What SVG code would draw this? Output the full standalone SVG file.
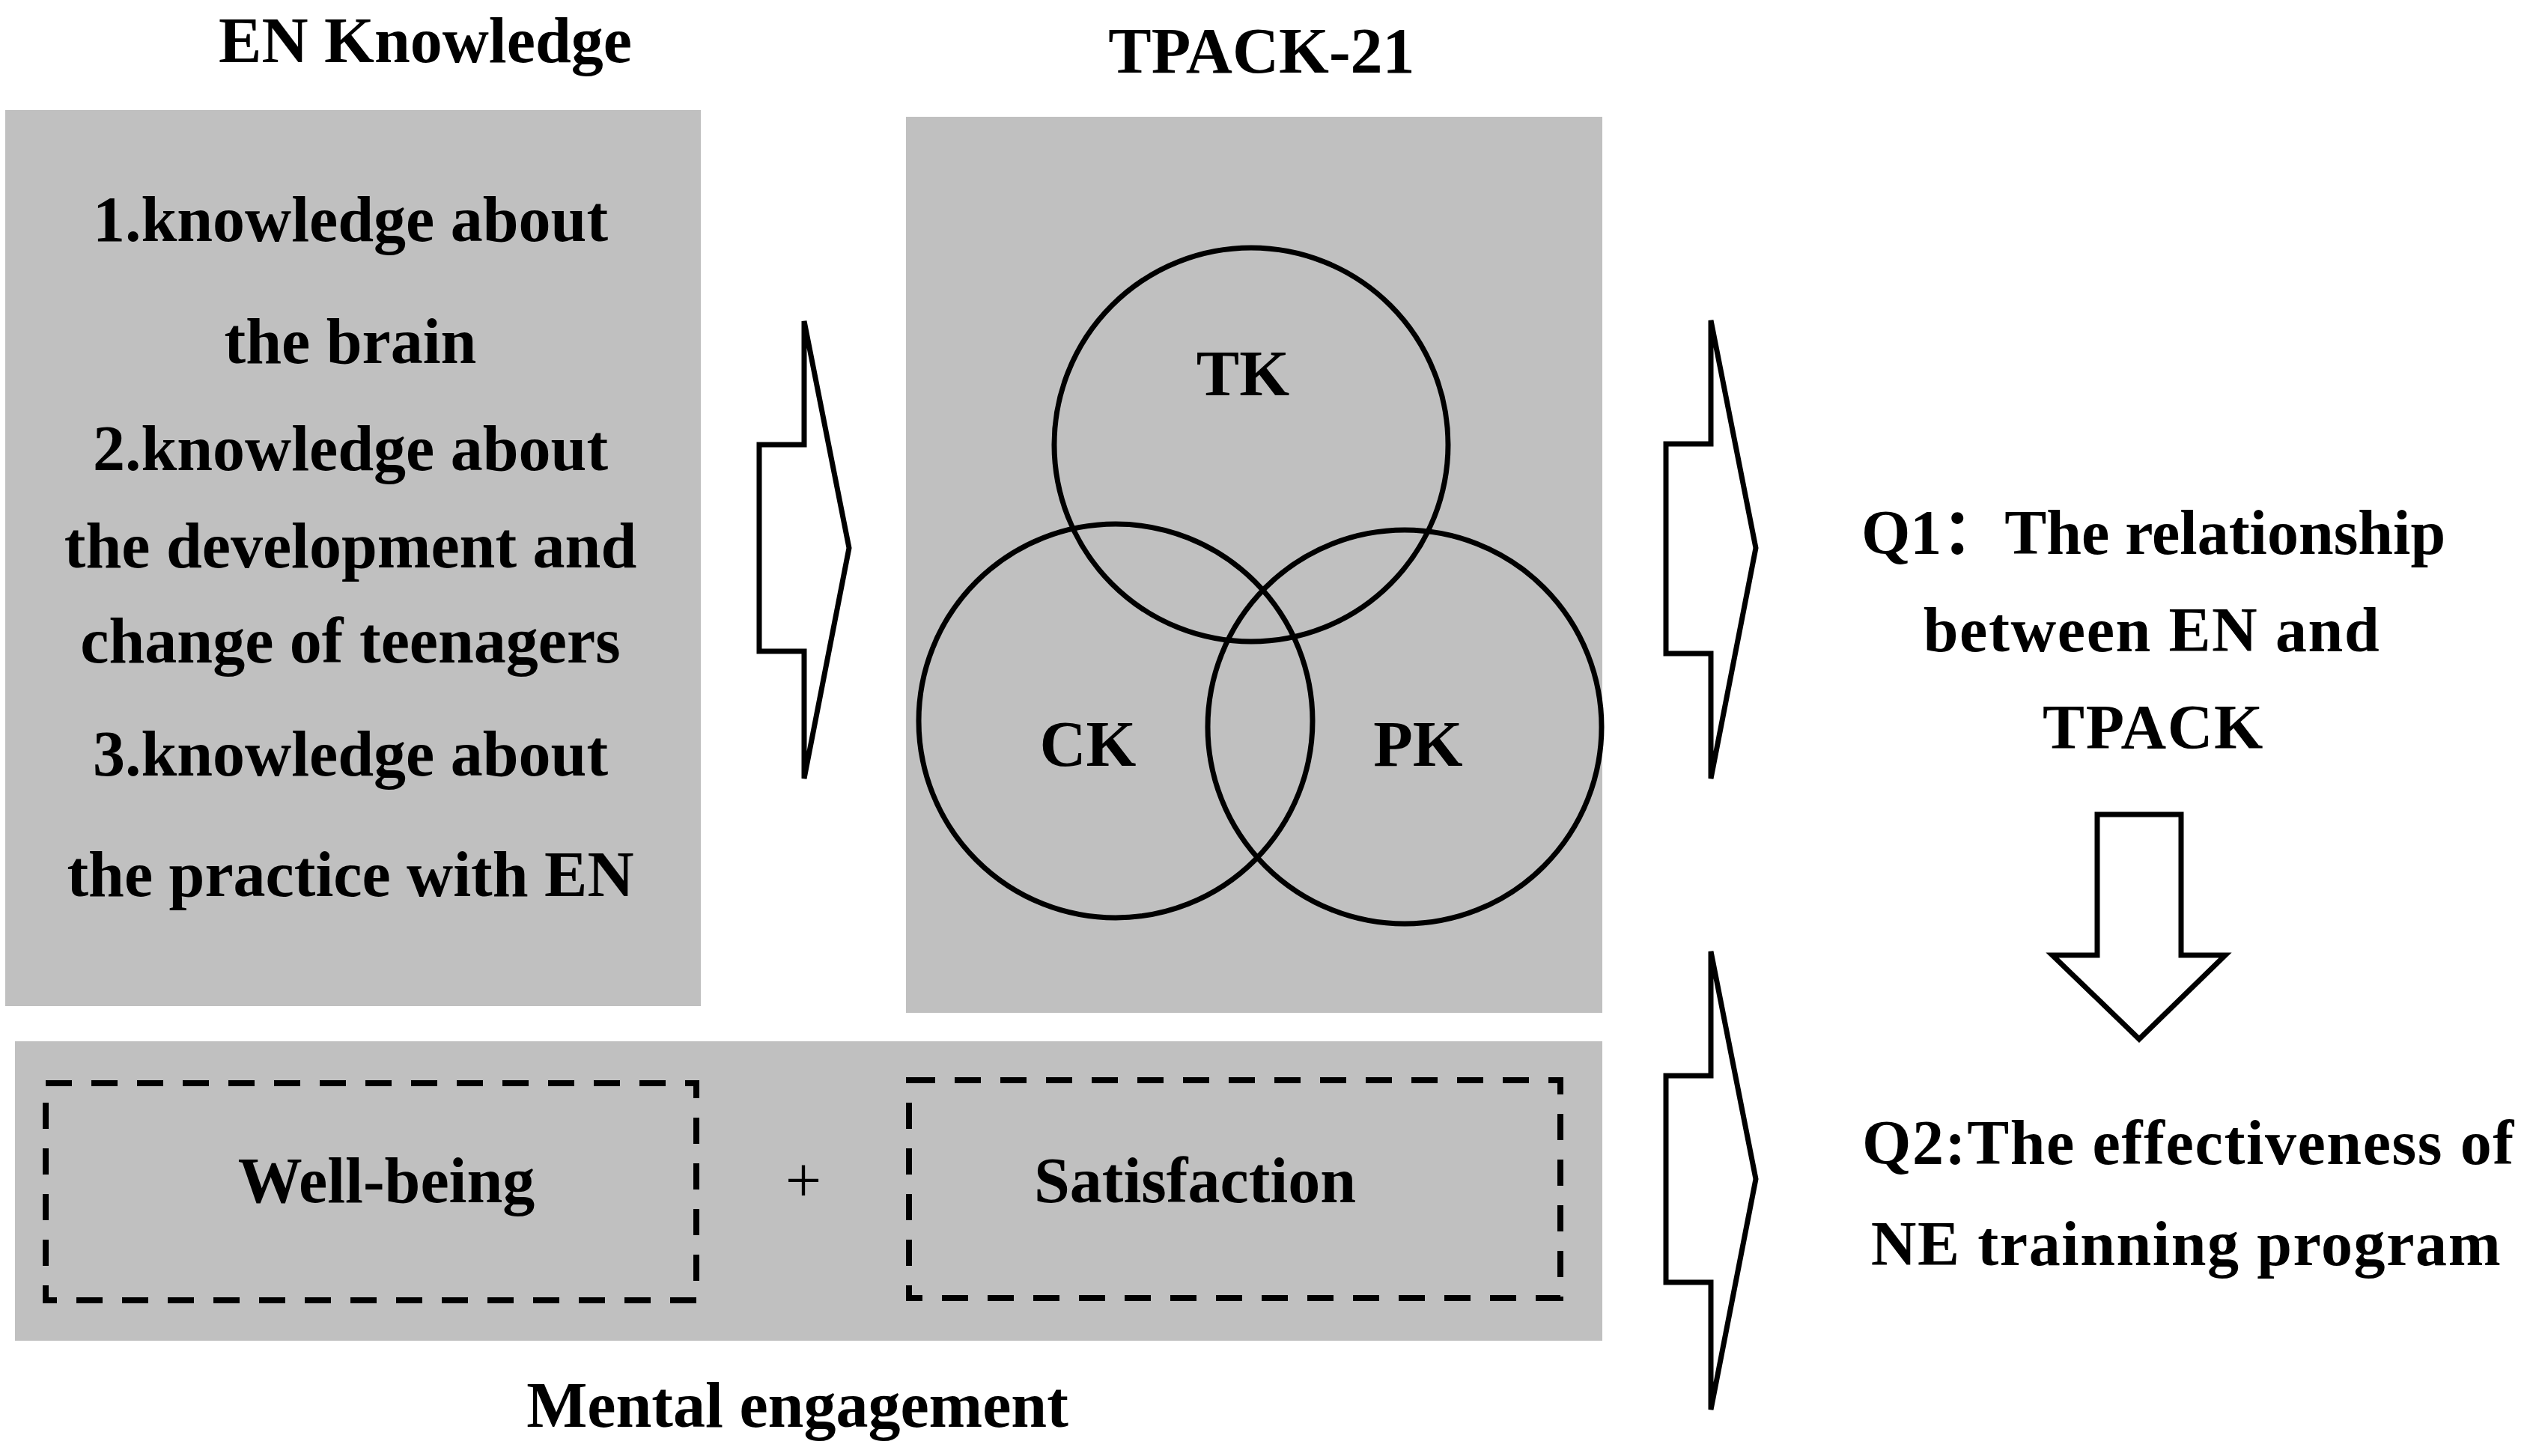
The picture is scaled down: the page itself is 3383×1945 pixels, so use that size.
<svg xmlns="http://www.w3.org/2000/svg" width="3383" height="1945" viewBox="0 0 3383 1945">
<style>
text{font-family:"Liberation Serif","Times New Roman","Noto Sans CJK SC",serif;font-weight:bold;font-size:86px;fill:#000;text-anchor:middle}
.q{font-size:84px;letter-spacing:1.6px}
.panel{fill:#c0c0c0;stroke:none}
.ring{fill:none;stroke:#000;stroke-width:7}
.dash{fill:none;stroke:#000;stroke-width:8;stroke-dasharray:35 26}
.arrow{fill:#fff;stroke:#000;stroke-width:7;stroke-linejoin:miter}
</style>
<rect width="3383" height="1945" fill="#fff"/>
<g id="en-knowledge">
<text x="568" y="83">EN Knowledge</text>
<rect class="panel" x="7" y="147" width="929" height="1197"/>
<text x="468" y="322">1.knowledge about</text>
<text x="468" y="485">the brain</text>
<text x="468" y="628">2.knowledge about</text>
<text x="468" y="758">the development and</text>
<text x="468" y="885">change of teenagers</text>
<text x="468" y="1036">3.knowledge about</text>
<text x="468" y="1197">the practice with EN</text>
</g>
<g id="tpack">
<text x="1685" y="97">TPACK-21</text>
<rect class="panel" x="1210" y="156" width="930" height="1197"/>
<circle class="ring" cx="1671" cy="594" r="263"/>
<circle class="ring" cx="1490" cy="963" r="263"/>
<circle class="ring" cx="1876" cy="971" r="263"/>
<text x="1660" y="528">TK</text>
<text x="1453" y="1023">CK</text>
<text x="1894" y="1023">PK</text>
</g>
<g id="mental-engagement">
<rect class="panel" x="20" y="1391" width="2120" height="400"/>
<rect class="dash" x="61" y="1447" width="869" height="290"/>
<rect class="dash" x="1214" y="1443" width="870" height="291"/>
<text x="516" y="1606">Well-being</text>
<text x="1073" y="1606" style="font-weight:normal">+</text>
<text x="1596" y="1606">Satisfaction</text>
<text x="1065" y="1906">Mental engagement</text>
</g>
<g id="q1">
<text class="q" x="2876" y="740" style="letter-spacing:0">Q1：The relationship</text>
<text class="q" x="2874" y="870">between EN and</text>
<text class="q" x="2876" y="1000">TPACK</text>
</g>
<g id="q2">
<text class="q" x="2923" y="1555">Q2:The effectiveness of</text>
<text class="q" x="2920" y="1690">NE trainning program</text>
</g>
<g id="connectors">
<polygon class="arrow" points="1014,594 1074,594 1074,429 1134,732 1074,1040 1074,870 1014,870"/>
<polygon class="arrow" points="2225,593 2285,593 2285,428 2345,732 2285,1040 2285,873 2225,873"/>
<polygon class="arrow" points="2225,1437 2285,1437 2285,1271 2345,1575 2285,1883 2285,1713 2225,1713"/>
<polygon class="arrow" points="2801,1088 2913,1088 2913,1276 2972,1276 2857,1388 2741,1276 2801,1276"/>
</g>
</svg>
